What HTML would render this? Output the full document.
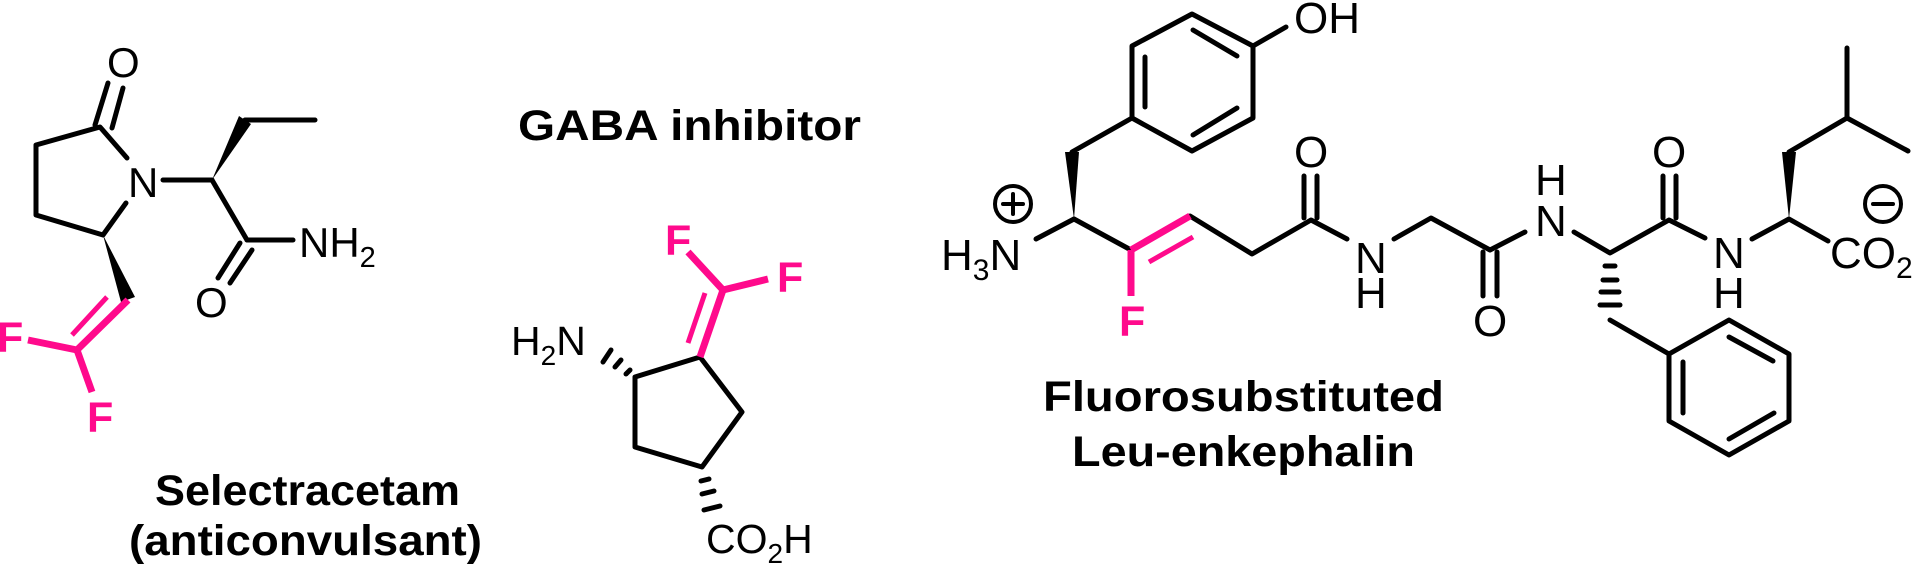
<!DOCTYPE html>
<html><head><meta charset="utf-8"><style>
html,body{margin:0;padding:0;background:#fff;}
svg{display:block;}
text{font-family:"Liberation Sans",Arial,sans-serif;}
.b{font-weight:bold;}
</style></head><body>
<svg width="1920" height="571" viewBox="0 0 1920 571" xmlns="http://www.w3.org/2000/svg">
<g stroke="#000" stroke-width="5" stroke-linecap="round" stroke-linejoin="round" fill="none">
<!-- Selectracetam -->
<polyline points="127,158 100,127 36,145 36,215 103,235 126,203"/>
<line x1="95" y1="125" x2="108" y2="83"/>
<line x1="112" y1="128" x2="123" y2="88"/>
<line x1="163" y1="180" x2="212" y2="180"/>
<line x1="315" y1="120" x2="245" y2="120"/>
<line x1="212" y1="180" x2="247" y2="240"/>
<line x1="247" y1="240" x2="293" y2="240"/>
<line x1="240" y1="243" x2="218" y2="278"/>
<line x1="252" y1="250" x2="230" y2="283"/>
<!-- GABA -->
<polygon points="635,377 700,357 742,412 702,467 635,447"/>
<!-- Leu-enkephalin -->
<line x1="1036" y1="239" x2="1074" y2="219"/>
<line x1="1074" y1="219" x2="1131" y2="250"/>
<line x1="1072" y1="152" x2="1132" y2="118"/>
<polygon points="1132,118 1132,46 1192,14 1253,46 1253,118 1192,151"/>
<line x1="1145" y1="57" x2="1145" y2="107"/>
<line x1="1193" y1="30" x2="1237" y2="56"/>
<line x1="1193" y1="135" x2="1237" y2="108"/>
<line x1="1253" y1="46" x2="1286" y2="27"/>
<polyline points="1190,216 1252,254 1311,220 1347,239"/>
<line x1="1304" y1="176" x2="1304" y2="218"/>
<line x1="1317" y1="176" x2="1317" y2="218"/>
<polyline points="1394,239 1431,218 1490,250 1525,232"/>
<line x1="1483" y1="252" x2="1483" y2="296"/>
<line x1="1497" y1="252" x2="1497" y2="296"/>
<polyline points="1574,232 1610,253 1669,220 1705,238"/>
<line x1="1663" y1="176" x2="1663" y2="218"/>
<line x1="1676" y1="176" x2="1676" y2="218"/>
<polyline points="1752,239 1789,219 1828,241"/>
<polyline points="1789,152 1847,118 1908,151"/>
<line x1="1847" y1="118" x2="1847" y2="48"/>
<line x1="1610" y1="320" x2="1669" y2="354"/>
<polygon points="1669,354 1729,320 1789,354 1789,421 1729,455 1669,421"/>
<line x1="1683" y1="362" x2="1683" y2="413"/>
<line x1="1729" y1="337" x2="1773" y2="361"/>
<line x1="1729" y1="439" x2="1774" y2="413"/>
<circle cx="1013" cy="204" r="18" stroke-width="4"/>
<line x1="1003" y1="204" x2="1023" y2="204" stroke-width="4"/>
<line x1="1013" y1="194" x2="1013" y2="214" stroke-width="4"/>
<circle cx="1883" cy="204" r="18" stroke-width="4"/>
<line x1="1873" y1="204" x2="1893" y2="204" stroke-width="4"/>
</g>
<!-- wedges -->
<polygon points="212,180 239,116 251,124" fill="#000"/>
<polygon points="103,235 121,302 135,297" fill="#000"/>
<polygon points="1074,219 1065,152 1079,152" fill="#000"/>
<polygon points="1789,219 1782,152 1796,152" fill="#000"/>
<!-- hashes -->
<g stroke="#000" stroke-width="5" stroke-linecap="round">
<line x1="626" y1="374" x2="630" y2="370"/>
<line x1="615" y1="367" x2="621" y2="360"/>
<line x1="603" y1="362" x2="611" y2="350"/>
<line x1="701" y1="481" x2="709" y2="479"/>
<line x1="702" y1="494" x2="714" y2="491"/>
<line x1="704" y1="510" x2="720" y2="506"/>
<line x1="1605" y1="266" x2="1615" y2="266"/>
<line x1="1603" y1="280" x2="1617" y2="280"/>
<line x1="1601" y1="292" x2="1619" y2="292"/>
<line x1="1600" y1="305" x2="1620" y2="305"/>
</g>
<!-- pink -->
<g stroke="#FF0A8C" stroke-width="7" stroke-linecap="butt" fill="none">
<polyline points="128,300 77,350 28,340"/>
<line x1="77" y1="350" x2="92" y2="392"/>
<line x1="107" y1="297" x2="72" y2="335" stroke-width="5"/>
<line x1="700" y1="357" x2="723" y2="290"/>
<line x1="705" y1="293" x2="688" y2="343" stroke-width="5"/>
<line x1="723" y1="290" x2="688" y2="252"/>
<line x1="723" y1="290" x2="768" y2="279"/>
<line x1="1131" y1="250" x2="1190" y2="216"/>
<line x1="1149" y1="262" x2="1193" y2="237" stroke-width="5"/>
<line x1="1131" y1="250" x2="1131" y2="296"/>
</g>
<g fill="#FF0A8C" font-size="43">
<text x="-3" y="352" class="b">F</text>
<text x="87" y="432" class="b">F</text>
<text x="665" y="255" class="b">F</text>
<text x="777" y="292" class="b">F</text>
<text x="1119" y="336" class="b">F</text>
</g>
<g fill="#000" font-size="42">
<text x="128" y="197">N</text>
<text x="107" y="77">O</text>
<text x="195" y="317">O</text>
<text x="299" y="257">NH<tspan font-size="29" dy="10">2</tspan></text>
</g>
<g fill="#000" font-size="41">
<text x="511" y="355">H<tspan font-size="28" dy="10">2</tspan><tspan dy="-10">N</tspan></text>
<text x="706" y="553">CO<tspan font-size="28" dy="10">2</tspan><tspan dy="-10">H</tspan></text>
</g>
<g fill="#000" font-size="44">
<text x="941" y="270">H<tspan font-size="30" dy="10">3</tspan><tspan dy="-10">N</tspan></text>
<text x="1294" y="33">OH</text>
<text x="1294" y="167">O</text>
<text x="1355" y="273">N</text>
<text x="1355" y="308">H</text>
<text x="1473" y="336">O</text>
<text x="1535" y="195">H</text>
<text x="1535" y="236">N</text>
<text x="1652" y="167">O</text>
<text x="1713" y="268">N</text>
<text x="1713" y="308">H</text>
<text x="1830" y="268">CO<tspan font-size="30" dy="10">2</tspan></text>
</g>
<g fill="#000" class="b" font-size="43">
<text x="155" y="505" textLength="305" lengthAdjust="spacingAndGlyphs">Selectracetam</text>
<text x="129" y="555" textLength="353" lengthAdjust="spacingAndGlyphs">(anticonvulsant)</text>
<text x="518" y="140" textLength="343" lengthAdjust="spacingAndGlyphs">GABA inhibitor</text>
<text x="1043" y="411" textLength="401" lengthAdjust="spacingAndGlyphs">Fluorosubstituted</text>
<text x="1072" y="466" textLength="343" lengthAdjust="spacingAndGlyphs">Leu-enkephalin</text>
</g>
</svg>
</body></html>
